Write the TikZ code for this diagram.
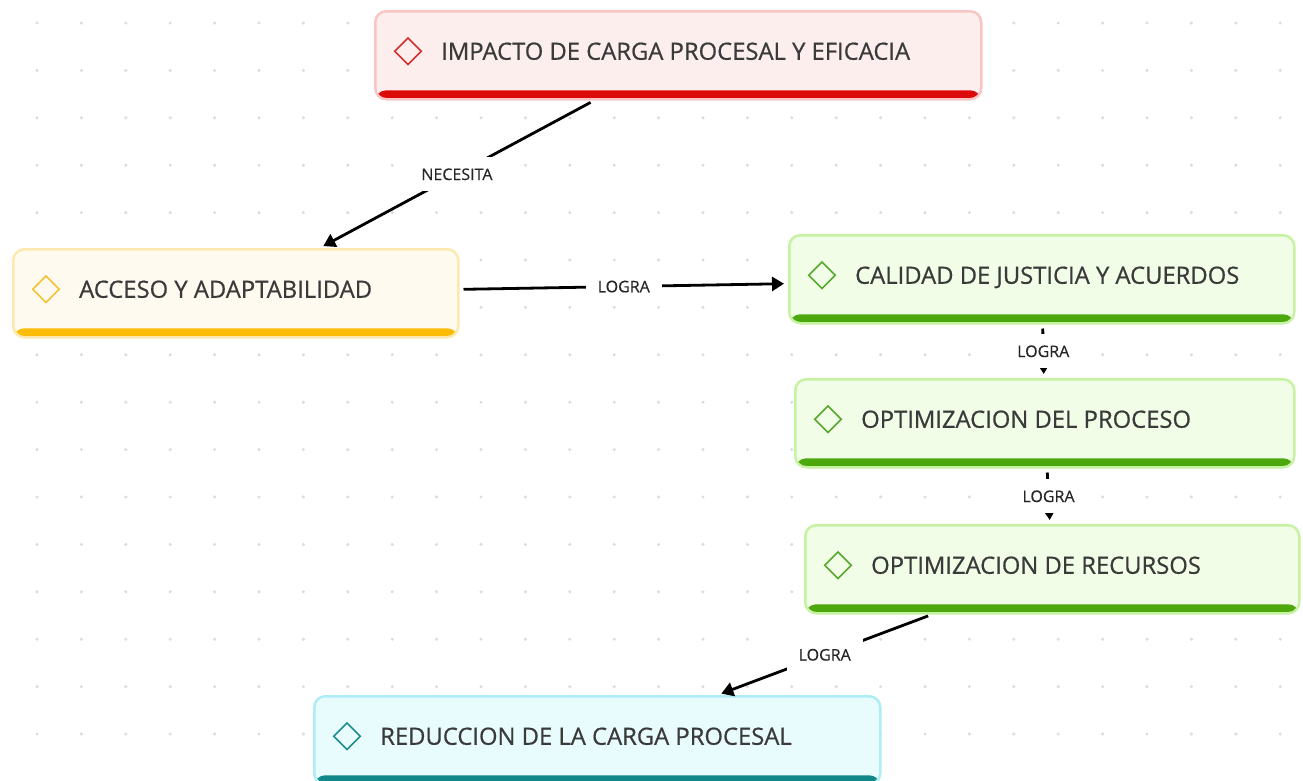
\documentclass[tikz,border=0pt]{standalone}
\usepackage{fontspec}
\setmainfont{Open Sans}
\newfontfamily\cardfont{Open Sans}[FakeBold=0.6]
\newfontfamily\tagfont{Open Sans}[FakeBold=0.3]
\usetikzlibrary{shapes.geometric, arrows.meta}

\definecolor{redfill}{HTML}{FDEEEE}
\definecolor{redborder}{HTML}{F8C4C4}
\definecolor{redbar}{HTML}{DD0A0A}
\definecolor{redicon}{HTML}{D32F2F}
\definecolor{yellowfill}{HTML}{FFFAF0}
\definecolor{yellowborder}{HTML}{FCE9B0}
\definecolor{yellowbar}{HTML}{FCBC05}
\definecolor{yellowicon}{HTML}{F3C232}
\definecolor{greenfill}{HTML}{F1FDE6}
\definecolor{greenborder}{HTML}{C6F3A3}
\definecolor{greenbar}{HTML}{4DA80E}
\definecolor{greenicon}{HTML}{58A72E}
\definecolor{cyanfill}{HTML}{E8FBFD}
\definecolor{cyanborder}{HTML}{AEEDF5}
\definecolor{cyanbar}{HTML}{12878A}
\definecolor{cyanicon}{HTML}{1D8D90}
\definecolor{titlegray}{HTML}{3A3A3A}
\definecolor{dotgray}{HTML}{DCDCDC}

\begin{document}
\begin{tikzpicture}[x=1pt, y=-1pt]
        \tikzset{
            card/.style={rectangle, rounded corners=11pt, line width=2.5pt, draw=#1border, fill=#1fill,
                anchor=north west, minimum height=88pt, inner sep=0pt,
                path picture={\fill[#1bar] ([yshift=9pt]path picture bounding box.south west) rectangle (path picture bounding box.south east);}},
            icon/.style={diamond, draw=#1icon, line width=1.6pt, minimum size=27pt, inner sep=0pt},
            cardtitle/.style={anchor=west, inner sep=0pt, text=titlegray, text height=17pt, text depth=0pt,
                font=\cardfont\fontsize{23.8}{28}\selectfont},
            link/.style={line width=2.8pt, -{Triangle[length=12pt, width=14pt]}, shorten <=4pt, shorten >=4pt},
            linktag/.style={fill=white, inner xsep=12pt, inner ysep=0pt, minimum height=34pt, text=black!85,
                text height=11.5pt, text depth=0pt, font=\tagfont\fontsize{16}{19}\selectfont}
        }
        \useasboundingbox (0,0) rectangle (1303,780);
        % dotted background
        \foreach \i in {0,...,28}
            \foreach \j in {0,...,15}
                \fill[dotgray] ({37+44.4*\i},{23+47.4*\j}) circle (1.7pt);
        % cards
        \node [card=red,    minimum width=606pt] (impacto)   at (374,10)  {};
        \node [card=yellow, minimum width=445pt] (acceso)    at (12,248)  {};
        \node [card=green,  minimum width=505pt] (calidad)   at (788,234) {};
        \node [card=green,  minimum width=499pt] (proceso)   at (794,378) {};
        \node [card=green,  minimum width=494pt] (recursos)  at (804,524) {};
        \node [card=cyan,   minimum width=566pt] (reduccion) at (313,695) {};
        \node [icon=red]    (impactoicon)   at ([xshift=34pt, yshift=4pt]impacto.west)   {};
        \node [icon=yellow] (accesoicon)    at ([xshift=34pt, yshift=4pt]acceso.west)    {};
        \node [icon=green]  (calidadicon)   at ([xshift=34pt, yshift=4pt]calidad.west)   {};
        \node [icon=green]  (procesoicon)   at ([xshift=34pt, yshift=4pt]proceso.west)   {};
        \node [icon=green]  (recursosicon)  at ([xshift=34pt, yshift=4pt]recursos.west)  {};
        \node [icon=cyan]   (reduccionicon) at ([xshift=34pt, yshift=4pt]reduccion.west) {};
        \node [cardtitle] (impactotext)   at ([xshift=67pt, yshift=4pt]impacto.west)   {IMPACTO DE CARGA PROCESAL Y EFICACIA};
        \node [cardtitle] (accesotext)    at ([xshift=67pt, yshift=4pt]acceso.west)    {ACCESO Y ADAPTABILIDAD};
        \node [cardtitle] (calidadtext)   at ([xshift=67pt, yshift=4pt]calidad.west)   {CALIDAD DE JUSTICIA Y ACUERDOS};
        \node [cardtitle] (procesotext)   at ([xshift=67pt, yshift=4pt]proceso.west)   {OPTIMIZACION DEL PROCESO};
        \node [cardtitle] (recursostext)  at ([xshift=67pt, yshift=4pt]recursos.west)  {OPTIMIZACION DE RECURSOS};
        \node [cardtitle] (reducciontext) at ([xshift=67pt, yshift=4pt]reduccion.west) {REDUCCION DE LA CARGA PROCESAL};
        % links
        \draw [link] (impacto)  -- node [linktag] {NECESITA} (acceso);
        \draw [link] (acceso)   -- node [linktag] {LOGRA}    (calidad);
        \draw [link] (calidad)  -- node [linktag] {LOGRA}    (proceso);
        \draw [link] (proceso)  -- node [linktag] {LOGRA}    (recursos);
        \draw [link] (recursos) -- node [linktag] {LOGRA}    (reduccion);
    \end{tikzpicture}
\end{document}
